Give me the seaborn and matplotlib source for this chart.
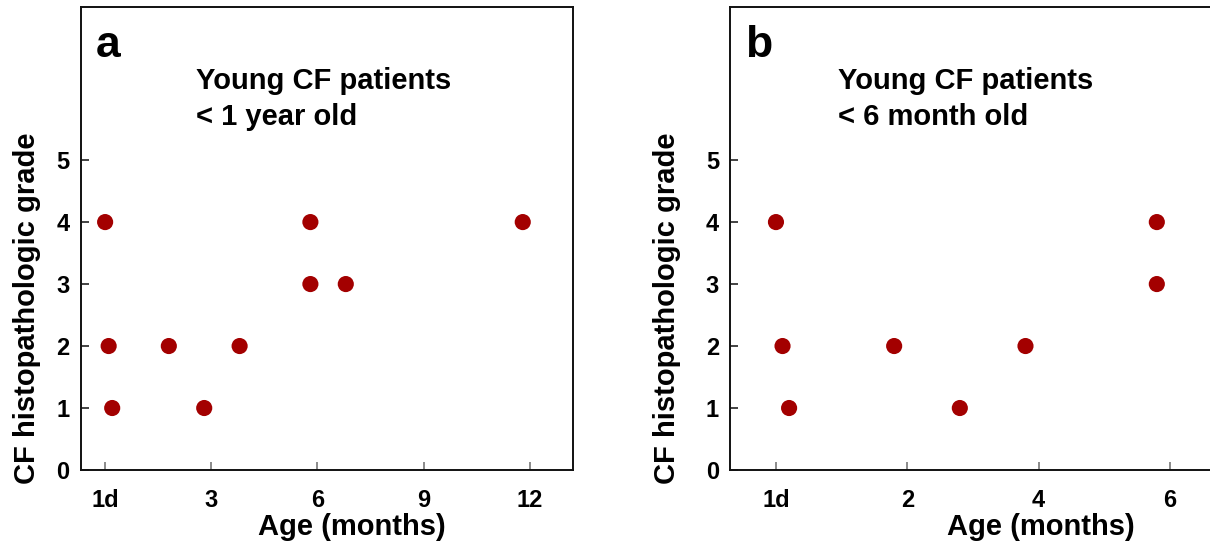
import numpy as np
import pandas as pd
import matplotlib
matplotlib.use("Agg")
import matplotlib.pyplot as plt
import seaborn as sns

# --- Data (age in months, 1 day ~ 0) ---
age_a = [0.0, 0.1, 0.2, 1.8, 2.8, 3.8, 5.8, 5.8, 6.8, 11.8]
grade_a = [4, 2, 1, 2, 1, 2, 4, 3, 3, 4]
age_b = [0.0, 0.1, 0.2, 1.8, 2.8, 3.8, 5.8, 5.8]
grade_b = [4, 2, 1, 2, 1, 2, 4, 3]

xticks_a = [0, 3, 6, 9, 12]
xticklabels_a = ["1d", "3", "6", "9", "12"]
xticks_b = [0, 2, 4, 6]
xticklabels_b = ["1d", "2", "4", "6"]
yticks = [0, 1, 2, 3, 4, 5]

panel_letters = ["a", "b"]
panel_notes = ["Young CF patients\n< 1 year old", "Young CF patients\n< 6 month old"]

dot_color = "#a30000"

sns.set_theme(style="white")
plt.rcParams['font.family'] = ['Liberation Sans', 'DejaVu Sans']
plt.rcParams['font.weight'] = 'bold'
plt.rcParams['text.color'] = 'black'
plt.rcParams['axes.labelcolor'] = 'black'
plt.rcParams['xtick.color'] = 'black'
plt.rcParams['ytick.color'] = 'black'

W, H = 1210, 545
fig = plt.figure(figsize=(W / 100, H / 100), dpi=100)
# axes boxes in pixels: left, top, right, bottom
ax_a = fig.add_axes([80.7 / W, 1 - 470 / H, 492.3 / W, 463 / H])
ax_b = fig.add_axes([730 / W, 1 - 470 / H, 480 / W, 463 / H])

df_a = pd.DataFrame({"age": age_a, "grade": grade_a})
df_b = pd.DataFrame({"age": age_b, "grade": grade_b})

panels = [
    (ax_a, df_a, xticks_a, xticklabels_a, (-0.69, 13.22)),
    (ax_b, df_b, xticks_b, xticklabels_b, (-0.70, 6.61)),
]
letter_x = [0.031, 0.031]
note_x = [0.234, 0.224]
xlabel_x = [0.551, 0.648]
ylabel_x = [-0.109, -0.131]

for i, (ax, df, xt, xtl, xlim) in enumerate(panels):
    sns.scatterplot(data=df, x="age", y="grade", ax=ax, color=dot_color,
                    s=135, edgecolor="none", zorder=3, legend=False)
    ax.set_xlim(*xlim)
    ax.set_ylim(0, 7.47)
    ax.set_xticks(xt)
    ax.set_xticklabels(xtl)
    ax.set_yticks(yticks)
    ax.tick_params(axis="both", direction="in", length=6, width=1.2,
                   labelsize=17, bottom=True, left=True)
    ax.tick_params(axis="x", pad=14, color="#777777")
    ax.tick_params(axis="y", pad=8, color="#222222")
    for lab in ax.get_xticklabels() + ax.get_yticklabels():
        lab.set_fontweight("bold")
    for sp in ax.spines.values():
        sp.set_color("#111111")
        sp.set_linewidth(1.4)
    ax.set_xlabel("Age (months)", fontsize=21, fontweight="bold")
    ax.set_ylabel("CF histopathologic grade", fontsize=21, fontweight="bold")
    ax.xaxis.set_label_coords(xlabel_x[i], -0.140)
    ax.xaxis.label.set_va("baseline")
    ax.yaxis.set_label_coords(ylabel_x[i], 0.35)
    ax.yaxis.label.set_va("center")
    ax.text(letter_x[i], 0.891, panel_letters[i], transform=ax.transAxes,
            fontsize=32, fontweight="bold", va="baseline", ha="left")
    ax.text(note_x[i], 0.745, panel_notes[i], transform=ax.transAxes,
            fontsize=21, fontweight="bold", va="baseline", ha="left",
            linespacing=1.37)

ax_b.spines["right"].set_visible(False)

fig.savefig("out.png", dpi=100)
